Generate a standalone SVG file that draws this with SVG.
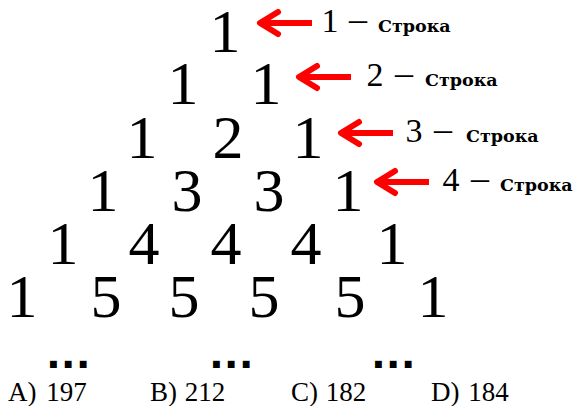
<svg xmlns="http://www.w3.org/2000/svg" width="574" height="406" viewBox="0 0 574 406">
<style>
.n{font-family:"Liberation Serif",serif;font-size:62px;fill:#000;text-anchor:middle}
.ln{font-family:"Liberation Serif",serif;font-size:34px;fill:#000;text-anchor:middle}
.dash{font-family:"Liberation Serif",serif;font-size:36px;fill:#000;text-anchor:middle}
.lw{font-family:"DejaVu Serif",serif;font-size:17.5px;font-weight:bold;fill:#000}
.dots{font-family:"Liberation Sans",sans-serif;font-size:48px;font-weight:bold;fill:#000;text-anchor:middle;letter-spacing:1.5px}
.opt{font-family:"Liberation Serif",serif;font-size:27px;fill:#000}
.arr{fill:none;stroke:#ff0000;stroke-width:6;stroke-linejoin:round}
.arr .head{stroke-linecap:round}
</style>
<rect width="574" height="406" fill="#fff"/>
<g id="row1"><text class="n" x="225" y="52">1</text></g>
<g id="row2"><text class="n" x="183" y="104">1</text><text class="n" x="266" y="104">1</text></g>
<g id="row3"><text class="n" x="142" y="158">1</text><text class="n" x="228" y="158">2</text><text class="n" x="308" y="158">1</text></g>
<g id="row4"><text class="n" x="103" y="211">1</text><text class="n" x="187" y="211">3</text><text class="n" x="269" y="211">3</text><text class="n" x="348" y="211">1</text></g>
<g id="row5"><text class="n" x="63" y="264">1</text><text class="n" x="144" y="264">4</text><text class="n" x="226" y="264">4</text><text class="n" x="306" y="264">4</text><text class="n" x="392" y="264">1</text></g>
<g id="row6"><text class="n" x="22" y="317">1</text><text class="n" x="106" y="317">5</text><text class="n" x="184" y="317">5</text><text class="n" x="264" y="317">5</text><text class="n" x="350" y="317">5</text><text class="n" x="433" y="317">1</text></g>
<g id="dots"><text class="dots" x="69" y="368">...</text><text class="dots" x="232" y="368">...</text><text class="dots" x="394" y="368">...</text></g>
<g id="label1"><text class="ln" x="330" y="32">1</text><text class="dash" x="358" y="31">–</text><text class="lw" x="378" y="32">Строка</text></g>
<g id="label2"><text class="ln" x="375" y="86">2</text><text class="dash" x="404" y="85">–</text><text class="lw" x="425" y="86">Строка</text></g>
<g id="label3"><text class="ln" x="414" y="142">3</text><text class="dash" x="443" y="141">–</text><text class="lw" x="466" y="142">Строка</text></g>
<g id="label4"><text class="ln" x="451" y="191">4</text><text class="dash" x="480" y="190">–</text><text class="lw" x="500" y="191">Строка</text></g>
<g id="connectors">
<g class="arr"><path d="M260,23 H312"/><path class="head" d="M278,12 L260,23 L278,34"/></g>
<g class="arr"><path d="M299,77 H351"/><path class="head" d="M317,66 L299,77 L317,88"/></g>
<g class="arr"><path d="M341,133 H393"/><path class="head" d="M359,122 L341,133 L359,144"/></g>
<g class="arr"><path d="M377,182 H429"/><path class="head" d="M395,171 L377,182 L395,193"/></g>
</g>
<g id="options">
<text class="opt" x="8" y="401">A) <tspan dx="3">197</tspan></text>
<text class="opt" x="150" y="401">B) <tspan dx="1">212</tspan></text>
<text class="opt" x="291" y="401">C) <tspan dx="1">182</tspan></text>
<text class="opt" x="431" y="401">D) <tspan dx="2">184</tspan></text>
</g>
</svg>
